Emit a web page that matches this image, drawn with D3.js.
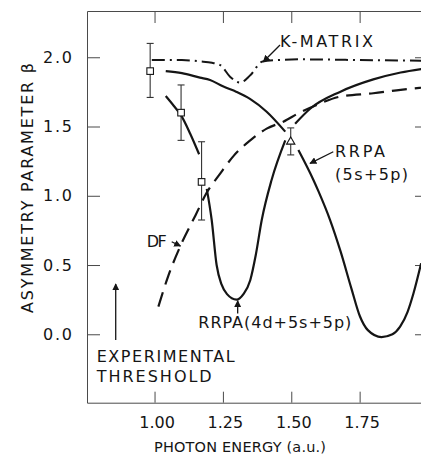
<!DOCTYPE html>
<html>
<head>
<meta charset="utf-8">
<script src="https://cdn.jsdelivr.net/npm/d3@7"></script>
<style>
  html, body { margin: 0; padding: 0; background: #fff; }
  svg { display: block; font-family: "DejaVu Sans", "Liberation Sans", sans-serif; }
</style>
</head>
<body>
<svg id="chart" width="421" height="456"></svg>
<script>
// ---- data ----
const xTicks = [1.00, 1.25, 1.50, 1.75];
const yTicks = [0.0, 0.5, 1.0, 1.5, 2.0];

// K-MATRIX (dash-dot)
const energyKM = [0.99, 1.10, 1.167, 1.21, 1.24, 1.276, 1.313, 1.35, 1.395, 1.45, 1.53, 1.75, 1.975];
const betaKM   = [1.98, 1.98, 1.97, 1.96, 1.944, 1.86, 1.817, 1.87, 1.97, 1.98, 1.985, 1.98, 1.975];

// RRPA (5s+5p) (solid), null = gap around the data point
const energy5s = [1.041, 1.10, 1.166, 1.203, 1.25, 1.30, 1.349, 1.41, 1.478, 1.50, 1.526, 1.581, 1.60, 1.642, 1.68, 1.72, 1.751, 1.78, 1.83, 1.87, 1.898, 1.925, 1.947, 1.975];
const beta5s   = [1.90, 1.885, 1.853, 1.836, 1.79, 1.75, 1.70, 1.607, 1.463, null, 1.33, 1.114, 1.03, 0.825, 0.60, 0.33, 0.13, 0.03, -0.02, 0.0, 0.055, 0.16, 0.296, 0.513];

// RRPA (4d+5s+5p) (solid)
const energy4d = [1.041, 1.07, 1.097, 1.13, 1.163, 1.175, 1.191, 1.209, 1.227, 1.245, 1.265, 1.30, 1.325, 1.35, 1.37, 1.392, 1.428, 1.478, 1.50, 1.514, 1.57, 1.678, 1.80, 1.90, 1.975];
const beta4d   = [1.72, 1.65, 1.58, 1.45, 1.30, null, 1.05, 0.825, 0.50, 0.36, 0.29, 0.25, 0.29, 0.39, 0.57, 0.825, 1.114, 1.40, null, 1.52, 1.63, 1.75, 1.84, 1.89, 1.915];

// DF (dashed)
const energyDF = [1.014, 1.05, 1.099, 1.15, 1.19, 1.24, 1.29, 1.35, 1.41, 1.471, 1.53, 1.593, 1.678, 1.80, 1.90, 1.975];
const betaDF   = [0.20, 0.42, 0.657, 0.86, 1.02, 1.16, 1.29, 1.40, 1.485, 1.535, 1.60, 1.656, 1.716, 1.74, 1.765, 1.78];

// experimental points (squares) with error bars
const expEnergy = [0.984, 1.097, 1.172];
const expBeta   = [1.90, 1.60, 1.10];
const expLow    = [1.71, 1.40, 0.825];
const expHigh   = [2.10, 1.80, 1.39];

// experimental point (triangle)
const triEnergy = [1.498];
const triBeta   = [1.39];
const triLow    = [1.295];
const triHigh   = [1.49];

// ---- chart ----
const svg = d3.select("#chart");
const plotL = 87, plotR = 428, plotT = 11, plotB = 402.7;
const x = d3.scaleLinear().domain([0.753, 2.0]).range([plotL, plotR]);
const y = d3.scaleLinear().domain([-0.494, 2.334]).range([plotB, plotT]);

const ink = "#151515";
const frameColor = "#4a4a4a";

// marker for arrows
svg.append("defs").append("marker")
  .attr("id", "ah").attr("viewBox", "0 0 10 10").attr("refX", 9).attr("refY", 5)
  .attr("markerWidth", 7).attr("markerHeight", 7).attr("markerUnits", "userSpaceOnUse")
  .attr("orient", "auto")
  .append("path").attr("d", "M0,0 L10,5 L0,10 Z").attr("fill", ink);

// axes
function styleAxis(g) {
  g.selectAll("path.domain").attr("stroke", frameColor).attr("stroke-width", 1);
  g.selectAll(".tick line").attr("stroke", frameColor).attr("stroke-width", 1);
  g.selectAll("text").attr("fill", ink).attr("font-family", "DejaVu Sans, sans-serif");
}
const gL = svg.append("g").attr("transform", `translate(${plotL},0)`)
  .call(d3.axisLeft(y).tickValues(yTicks).tickSizeInner(-13).tickSizeOuter(0).tickPadding(15).tickFormat(d3.format(".1f")));
gL.selectAll("text").attr("font-size", 16).attr("textLength", 29).attr("lengthAdjust", "spacing");
styleAxis(gL);

const gB = svg.append("g").attr("transform", `translate(0,${plotB})`)
  .call(d3.axisBottom(x).tickValues(xTicks).tickSizeInner(-11).tickSizeOuter(0).tickPadding(13.6).tickFormat(d3.format(".2f")));
gB.selectAll("text").attr("font-size", 16).attr("dx", 2);
styleAxis(gB);

const gT = svg.append("g").attr("transform", `translate(0,${plotT})`)
  .call(d3.axisTop(x).tickValues(xTicks).tickSizeInner(-12).tickSizeOuter(0).tickFormat(""));
styleAxis(gT);

const gR = svg.append("g").attr("transform", `translate(${plotR},0)`)
  .call(d3.axisRight(y).tickValues(yTicks).tickSizeInner(-13).tickSizeOuter(0).tickFormat(""));
styleAxis(gR);

// curves
function series(es, bs) { return es.map((e, i) => [e, bs[i]]); }
const line = d3.line()
  .defined(d => d[1] !== null)
  .x(d => x(d[0])).y(d => y(d[1]))
  .curve(d3.curveMonotoneX);

const curves = [
  { data: series(energyKM, betaKM), dash: "13,5,2,5", w: 2 },
  { data: series(energyDF, betaDF), dash: "15,8", w: 2.2 },
  { data: series(energy5s, beta5s), dash: null, w: 2.2 },
  { data: series(energy4d, beta4d), dash: null, w: 2.2 },
];
svg.append("g").selectAll("path").data(curves).join("path")
  .attr("d", d => line(d.data))
  .attr("fill", "none").attr("stroke", ink).attr("stroke-width", d => d.w)
  .attr("stroke-dasharray", d => d.dash);

// error bars
const capW = 3.5;
function errorBars(es, lo, hi) {
  const g = svg.append("g").attr("stroke", "#333").attr("stroke-width", 1.1);
  es.forEach((e, i) => {
    g.append("line").attr("x1", x(e)).attr("x2", x(e)).attr("y1", y(lo[i])).attr("y2", y(hi[i]));
    g.append("line").attr("x1", x(e) - capW).attr("x2", x(e) + capW).attr("y1", y(lo[i])).attr("y2", y(lo[i]));
    g.append("line").attr("x1", x(e) - capW).attr("x2", x(e) + capW).attr("y1", y(hi[i])).attr("y2", y(hi[i]));
  });
}
errorBars(expEnergy, expLow, expHigh);
errorBars(triEnergy, triLow, triHigh);

svg.append("g").selectAll("rect").data(expEnergy.map((e, i) => [e, expBeta[i]])).join("rect")
  .attr("x", d => x(d[0]) - 3.3).attr("y", d => y(d[1]) - 3.3)
  .attr("width", 6.6).attr("height", 6.6)
  .attr("fill", "#fff").attr("stroke", ink).attr("stroke-width", 1.1);

svg.append("g").selectAll("path").data(triEnergy.map((e, i) => [e, triBeta[i]])).join("path")
  .attr("d", d3.symbol().type(d3.symbolTriangle).size(30))
  .attr("transform", d => `translate(${x(d[0])},${y(d[1])})`)
  .attr("fill", "#fff").attr("stroke", ink).attr("stroke-width", 1.1);

// annotation arrows (data coordinates)
const arrows = [
  [[1.4588, 2.0885], [1.3977, 1.968]],   // K-MATRIX
  [[1.6537, 1.318], [1.5685, 1.234]],    // RRPA (5s+5p)
  [[1.0627, 0.668], [1.0949, 0.637]],    // DF
  [[1.304, 0.150], [1.304, 0.242]],      // RRPA(4d+5s+5p)
  [[0.858, -0.041], [0.858, 0.363]],     // experimental threshold
];
svg.append("g").selectAll("line").data(arrows).join("line")
  .attr("x1", d => x(d[0][0])).attr("y1", d => y(d[0][1]))
  .attr("x2", d => x(d[1][0])).attr("y2", d => y(d[1][1]))
  .attr("stroke", ink).attr("stroke-width", 1.3).attr("marker-end", "url(#ah)");

// labels
const labels = [
  { t: "K-MATRIX", x: 280, y: 46.7, w: 93, s: 16 },
  { t: "RRPA", x: 335, y: 156.7, w: 50, s: 16 },
  { t: "(5s+5p)", x: 335, y: 179.5, w: 73, s: 16 },
  { t: "DF", x: 146.7, y: 246.7, w: 20, s: 16 },
  { t: "RRPA(4d+5s+5p)", x: 198.3, y: 327.7, w: 153, s: 16 },
  { t: "EXPERIMENTAL", x: 96.7, y: 361.7, w: 138, s: 16 },
  { t: "THRESHOLD", x: 96.7, y: 382, w: 115, s: 16 },
  { t: "PHOTON ENERGY (a.u.)", x: 154, y: 452, w: 172, s: 14.5 },
];
svg.append("g").selectAll("text").data(labels).join("text")
  .attr("x", d => d.x).attr("y", d => d.y)
  .attr("font-size", d => d.s).attr("fill", ink)
  .attr("textLength", d => d.w).attr("lengthAdjust", "spacing")
  .text(d => d.t);

svg.append("text")
  .attr("transform", "translate(33,313) rotate(-90)")
  .attr("font-size", 16).attr("fill", ink)
  .attr("textLength", 250).attr("lengthAdjust", "spacing")
  .text("ASYMMETRY PARAMETER β");
</script>
</body>
</html>
